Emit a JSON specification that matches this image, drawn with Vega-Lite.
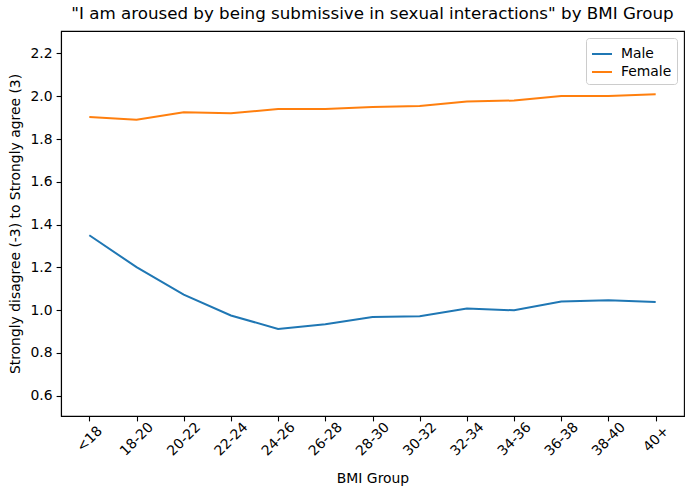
{
  "$schema": "https://vega.github.io/schema/vega-lite/v6.json",
  "width": 623,
  "height": 385,
  "autosize": {"type": "none"},
  "padding": {"left": 61, "top": 31, "right": 7, "bottom": 78},
  "background": "white",
  "title": {
    "text": "\"I am aroused by being submissive in sexual interactions\" by BMI Group",
    "fontSize": 16.7,
    "fontWeight": "normal",
    "font": "DejaVu Sans",
    "color": "black",
    "anchor": "middle",
    "offset": 8
  },
  "data": {
    "values": [
      {"bmi": "<18", "gender": "Male", "value": 1.350},
      {"bmi": "18-20", "gender": "Male", "value": 1.201},
      {"bmi": "20-22", "gender": "Male", "value": 1.072},
      {"bmi": "22-24", "gender": "Male", "value": 0.975},
      {"bmi": "24-26", "gender": "Male", "value": 0.912},
      {"bmi": "26-28", "gender": "Male", "value": 0.934},
      {"bmi": "28-30", "gender": "Male", "value": 0.968},
      {"bmi": "30-32", "gender": "Male", "value": 0.971},
      {"bmi": "32-34", "gender": "Male", "value": 1.008},
      {"bmi": "34-36", "gender": "Male", "value": 0.999},
      {"bmi": "36-38", "gender": "Male", "value": 1.040},
      {"bmi": "38-40", "gender": "Male", "value": 1.046},
      {"bmi": "40+", "gender": "Male", "value": 1.038},
      {"bmi": "<18", "gender": "Female", "value": 1.903},
      {"bmi": "18-20", "gender": "Female", "value": 1.890},
      {"bmi": "20-22", "gender": "Female", "value": 1.925},
      {"bmi": "22-24", "gender": "Female", "value": 1.920},
      {"bmi": "24-26", "gender": "Female", "value": 1.940},
      {"bmi": "26-28", "gender": "Female", "value": 1.940},
      {"bmi": "28-30", "gender": "Female", "value": 1.950},
      {"bmi": "30-32", "gender": "Female", "value": 1.954},
      {"bmi": "32-34", "gender": "Female", "value": 1.975},
      {"bmi": "34-36", "gender": "Female", "value": 1.980},
      {"bmi": "36-38", "gender": "Female", "value": 2.001},
      {"bmi": "38-40", "gender": "Female", "value": 2.001},
      {"bmi": "40+", "gender": "Female", "value": 2.009}
    ]
  },
  "mark": {"type": "line", "strokeWidth": 2},
  "encoding": {
    "x": {
      "field": "bmi",
      "type": "ordinal",
      "sort": ["<18", "18-20", "20-22", "22-24", "24-26", "26-28", "28-30", "30-32", "32-34", "34-36", "36-38", "38-40", "40+"],
      "scale": {"type": "point", "padding": 0.6},
      "axis": {
        "title": "BMI Group",
        "labelAngle": -45,
        "labelAlign": "center",
        "labelBaseline": "middle",
        "labelPadding": 18,
        "titlePadding": 13
      }
    },
    "y": {
      "field": "value",
      "type": "quantitative",
      "scale": {"domain": [0.505, 2.305], "nice": false, "zero": false},
      "axis": {
        "title": "Strongly disagree (-3) to Strongly agree (3)",
        "values": [0.6, 0.8, 1.0, 1.2, 1.4, 1.6, 1.8, 2.0, 2.2],
        "format": ".1f",
        "labelPadding": 4,
        "titlePadding": 8
      }
    },
    "color": {
      "field": "gender",
      "type": "nominal",
      "scale": {"domain": ["Male", "Female"], "range": ["#1f77b4", "#ff7f0e"]},
      "legend": {
        "title": null,
        "orient": "top-right",
        "offset": 7,
        "symbolType": "stroke",
        "symbolStrokeWidth": 2,
        "symbolSize": 400,
        "labelFontSize": 13.9,
        "labelOffset": 8,
        "rowPadding": 0,
        "padding": 5,
        "strokeColor": "#cccccc",
        "cornerRadius": 3,
        "fillColor": "white"
      }
    }
  },
  "config": {
    "font": "DejaVu Sans",
    "view": {"stroke": "black", "strokeWidth": 1.1},
    "axis": {
      "grid": false,
      "domainColor": "black",
      "domainWidth": 1.1,
      "tickColor": "black",
      "tickWidth": 1.1,
      "tickSize": 4.9,
      "labelFont": "DejaVu Sans",
      "labelFontSize": 13.9,
      "labelColor": "black",
      "titleFont": "DejaVu Sans",
      "titleFontSize": 13.9,
      "titleFontWeight": "normal",
      "titleColor": "black"
    },
    "legend": {"labelFont": "DejaVu Sans", "labelColor": "black"}
  }
}
